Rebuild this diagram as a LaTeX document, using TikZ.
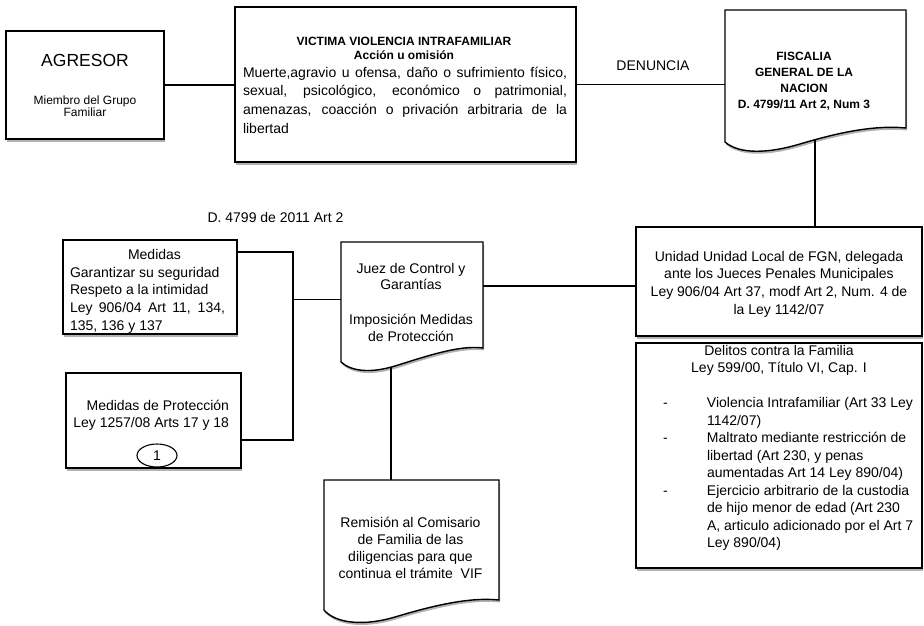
\documentclass[tikz,border=0pt]{standalone}
\usepackage{fontspec}
\setmainfont{Liberation Sans}
\usetikzlibrary{shadows,shapes.geometric}
\begin{document}
\begin{tikzpicture}[x=1pt,y=-1pt,
 shad/.style={drop shadow={shadow xshift=1pt,shadow yshift=-2.5pt,opacity=0.3,fill=black}},
 box/.style={draw=black, line width=1.4pt, fill=white, shad, inner sep=0pt, outer sep=0pt},
 docshape/.style={draw=black, line width=1.4pt, fill=white, shad, line join=miter},
 link/.style={draw=black, line width=1.1pt},
 ghost/.style={inner sep=0pt, outer sep=0pt},
 t14/.style={ghost, font=\fontsize{14}{17.5}\selectfont},
]
\useasboundingbox (0,0) rectangle (924,625);

% AGRESOR
\node[box, minimum width=158pt, minimum height=108pt] (agr) at (85,85) {};
\node[ghost, font=\fontsize{17.5}{20}\selectfont, anchor=base] (agrT) at (85,66.7) {AGRESOR};
\node[ghost, font=\fontsize{12}{12.5}\selectfont, align=center, anchor=base] (agrS) at (85,116.5) {Miembro del Grupo\\Familiar};

% VICTIMA
\node[box, minimum width=341pt, minimum height=155pt] (vic) at (405.5,84.5) {};
\node[ghost, font=\bfseries\fontsize{12}{13.5}\selectfont, align=center, anchor=base] (vicT) at (404,59) {VICTIMA VIOLENCIA INTRAFAMILIAR\\Acción u omisión};
\node[ghost, font=\fontsize{14}{18.8}\selectfont, text width=324pt, align=justify, anchor=base west] (vicB) at (243,77) {Muerte,agravio u ofensa, daño o sufrimiento físico,\linebreak sexual, psicológico, económico o patrimonial,\linebreak amenazas, coacción o privación arbitraria de la\linebreak libertad};

% FISCALIA
\path[docshape] (725,10) -- (906,10) -- (906,128) .. controls (875,125) and (840,132) .. (800,144) .. controls (770,153) and (740,155) .. (725,142) -- cycle;
\node[ghost, font=\bfseries\fontsize{12}{16}\selectfont, align=center, anchor=base] (fis) at (804,108.7) {FISCALIA\\GENERAL DE LA\\NACION\\D. 4799/11 Art 2, Num 3};
\node[t14, anchor=base] (den) at (653,70) {DENUNCIA};

% UNIDAD
\node[box, minimum width=286pt, minimum height=109pt] (uni) at (779,281.5) {};
\node[ghost, font=\fontsize{14}{17.7}\selectfont, align=center, anchor=base] (uniT) at (779,314.1) {Unidad Unidad Local de FGN, delegada\\ante los Jueces Penales Municipales\\Ley 906/04 Art 37, modf Art 2, Num. 4 de\\la Ley 1142/07};

% DELITOS
\node[box, minimum width=286pt, minimum height=225pt] (del) at (779,455.5) {};
\node[t14, align=center, anchor=base] (delH) at (779,372.5) {Delitos contra la Familia\\Ley 599/00, Título VI, Cap. I};
\node[t14, anchor=base west] (delL) at (663,407.5) {\begin{tabular}[t]{@{}p{44pt}@{}l@{}}
- & Violencia Intrafamiliar (Art 33 Ley\\
  & 1142/07)\\
- & Maltrato mediante restricción de\\
  & libertad (Art 230, y penas\\
  & aumentadas Art 14 Ley 890/04)\\
- & Ejercicio arbitrario de la custodia\\
  & de hijo menor de edad (Art 230\\
  & A, articulo adicionado por el Art 7\\
  & Ley 890/04)
\end{tabular}};

% MEDIDAS
\node[box, minimum width=174pt, minimum height=94pt] (med) at (150,287) {};
\node[t14, anchor=base] (medH) at (154.5,259.3) {Medidas};
\node[ghost, font=\fontsize{14}{17.8}\selectfont, text width=155pt, align=justify, anchor=base west] (medT) at (70,277.1) {Garantizar su seguridad\par Respeto a la intimidad\par Ley 906/04 Art 11, 134,\linebreak 135, 136 y 137};

% MEDIDAS DE PROTECCION
\node[box, minimum width=175pt, minimum height=95pt] (prot) at (153.5,420.5) {};
\node[t14, align=right, anchor=base east] (protT) at (229,427.5) {Medidas de Protección\\Ley 1257/08 Arts 17 y 18};
\node[draw=black, line width=1.1pt, ellipse, minimum width=40pt, minimum height=23pt, inner sep=0pt, font=\fontsize{14}{17}\selectfont] (one) at (157,455.5) {1};

\node[t14, anchor=base] (dlab) at (275.5,222.7) {D. 4799 de 2011 Art 2};

% JUEZ
\path[docshape] (341,242) -- (483,242) -- (483,348) .. controls (460,345) and (430,355) .. (395,366) .. controls (372,373) and (352,372) .. (341,362) -- cycle;
\node[ghost, font=\fontsize{14}{16.5}\selectfont, align=center, anchor=base] (juezA) at (411,289.8) {Juez de Control y\\Garantías};
\node[ghost, font=\fontsize{14}{17.5}\selectfont, align=center, anchor=base] (juezB) at (411,341.5) {Imposición Medidas\\de Protección};

% REMISION
\path[docshape] (324,480) -- (499,480) -- (499,600) .. controls (470,597) and (435,605) .. (395,617) .. controls (365,626) and (336,624) .. (324,610) -- cycle;
\node[ghost, font=\fontsize{14}{17}\selectfont, align=center, anchor=base] (rem) at (410.5,578.3) {Remisión al Comisario\\de Familia de las\\diligencias para que\\continua el trámite\ \ VIF};

% connectors
\coordinate (fisW) at (725,84.5);
\coordinate (fisB) at (815,140);
\coordinate (juezE) at (483,286);
\coordinate (jn) at (293,252);
\coordinate (js) at (293,440);
\coordinate (jm) at (293,299.3);
\coordinate (juezW) at (341,299.3);
\coordinate (juezS) at (391,367);
\coordinate (remN) at (391,480);

\draw[link] (agr.east) -- (agr.east -| vic.west);
\draw[link] (vic.east) -- (fisW);
\draw[link] (fisB) -- (fisB |- uni.north);
\draw[link] (juezE) -- (juezE -| uni.west);
\draw[link] (med.east |- jn) -- (jn) -- (js) -- (prot.east |- js);
\draw[link] (jm) -- (juezW);
\draw[link] (juezS) -- (remN);
\end{tikzpicture}
\end{document}
